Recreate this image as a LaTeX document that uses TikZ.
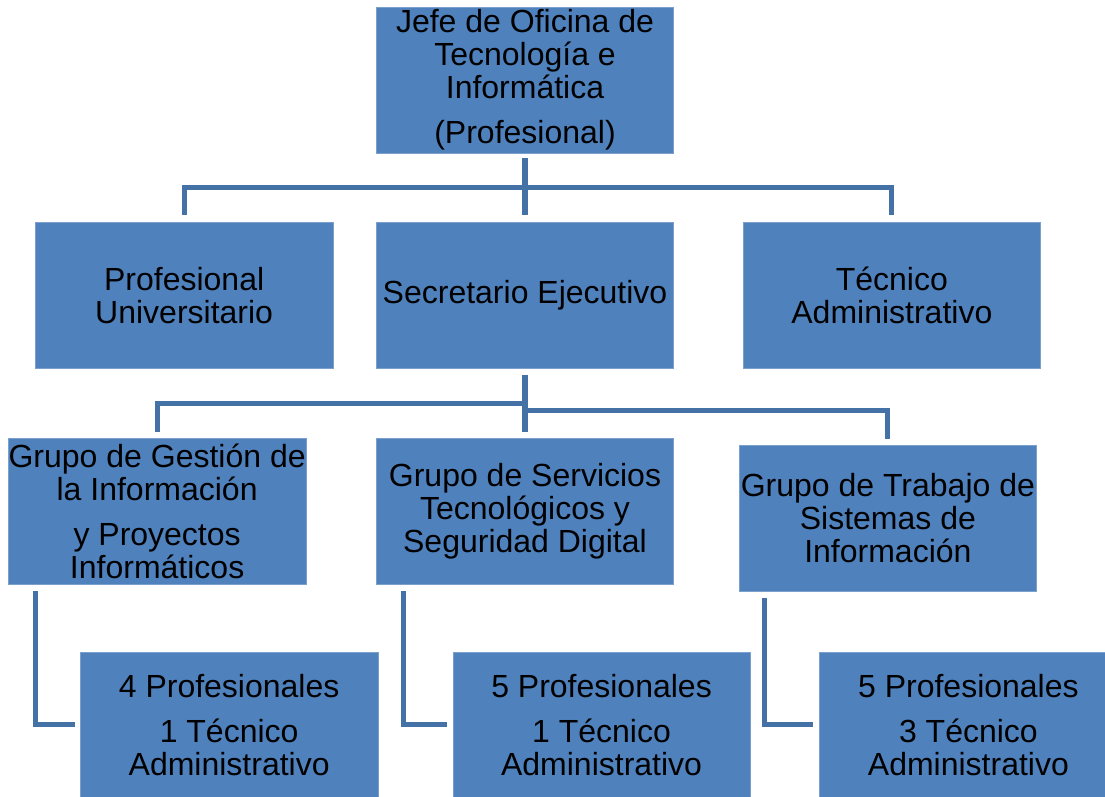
\documentclass[tikz,border=0pt]{standalone}
\usepackage{fontspec}
\setmainfont{Liberation Sans}
\usepackage{tikz}
\usetikzlibrary{positioning}
\usetikzlibrary{calc}

\definecolor{boxblue}{RGB}{79,129,189}
\definecolor{lineblue}{RGB}{68,114,166}

\tikzset{
  cargo/.style={fill=boxblue, draw=boxblue!75!white, line width=0.4pt,
    minimum width=223pt, minimum height=109.5pt, inner sep=0pt,
    align=center, font=\fontsize{24}{24.75}\selectfont},
  enlace/.style={draw=lineblue, line width=3.8pt}
}

\begin{document}
\begin{tikzpicture}[x=0.75pt, y=-0.75pt]
\useasboundingbox (0,0) rectangle (1105,796);
\node[cargo] (jefe) at (525,80) {Jefe de Oficina de\\Tecnología e\\Informática\\[9pt](Profesional)};
\node[cargo, below=51.75pt of jefe] (secr) {Secretario Ejecutivo};
\node[cargo, left=32.25pt of secr] (prof) {Profesional\\Universitario};
\node[cargo, right=51.75pt of secr] (tec) {Técnico\\Administrativo};
%%%%%%%%%%%%%%
\node[cargo, below=52pt of secr] (serv) {Grupo de Servicios\\Tecnológicos y\\Seguridad Digital};
\node[cargo, left=52.5pt of serv] (gest) {Grupo de Gestión de\\la Información\\[9pt]y Proyectos\\Informáticos};
\node[cargo, right=48.75pt of serv, yshift=-5.25pt] (trab) {Grupo de Trabajo de\\Sistemas de\\Información};
%%%%%%%%%%%%%%
\node[cargo, below=50.25pt of gest, xshift=54pt] (eq1) {4 Profesionales\\[9pt]1 Técnico\\Administrativo};
\node[cargo, below=50.25pt of serv, xshift=57.4pt] (eq2) {5 Profesionales\\[9pt]1 Técnico\\Administrativo};
\node[cargo, below=45pt of trab, xshift=60.4pt] (eq3) {5 Profesionales\\[9pt]3 Técnico\\Administrativo};
%%%%%%%%%%%%%%%%%%%%%%%%%%%%%%%%%%%%%%%%%%
\coordinate[below=3.75pt of jefe] (aux1);
\coordinate[above=5.25pt of prof] (up1);
\coordinate[above=5.25pt of secr] (up2);
\coordinate[above=5.25pt of tec] (up3);
\coordinate[above=21pt of up2] (bar1);
%%%%%%%%%%%%%%
\coordinate[below=4.5pt of secr] (aux2);
\coordinate[above=4.5pt of gest] (up4);
\coordinate[above=4.5pt of serv] (up5);
\coordinate[above=4.5pt of trab] (up6);
\coordinate[above=21.75pt of up5] (bar2);
\coordinate[above=16.5pt of up5] (bar3);
%%%%%%%%%%%%%%
\coordinate[below right=4.5pt and 20.25pt of gest.south west] (dn1);
\coordinate[below right=4.5pt and 20.25pt of serv.south west] (dn2);
\coordinate[below right=4.5pt and 19.5pt of trab.south west] (dn3);
\coordinate[left=3.75pt of eq1] (lf1);
\coordinate[left=4.5pt of eq2] (lf2);
\coordinate[left=4.5pt of eq3] (lf3);

\draw[enlace] (aux1) -- (up2);
\draw[enlace] (up1) |- (bar1) -| (up3);

\draw[enlace] (aux2) -- (up5);
\draw[enlace] (up4) |- (bar2);
\draw[enlace] (bar3) -| (up6);

\draw[enlace] (dn1) |- (lf1);
\draw[enlace] (dn2) |- (lf2);
\draw[enlace] (dn3) |- (lf3);

\end{tikzpicture}
\end{document}
